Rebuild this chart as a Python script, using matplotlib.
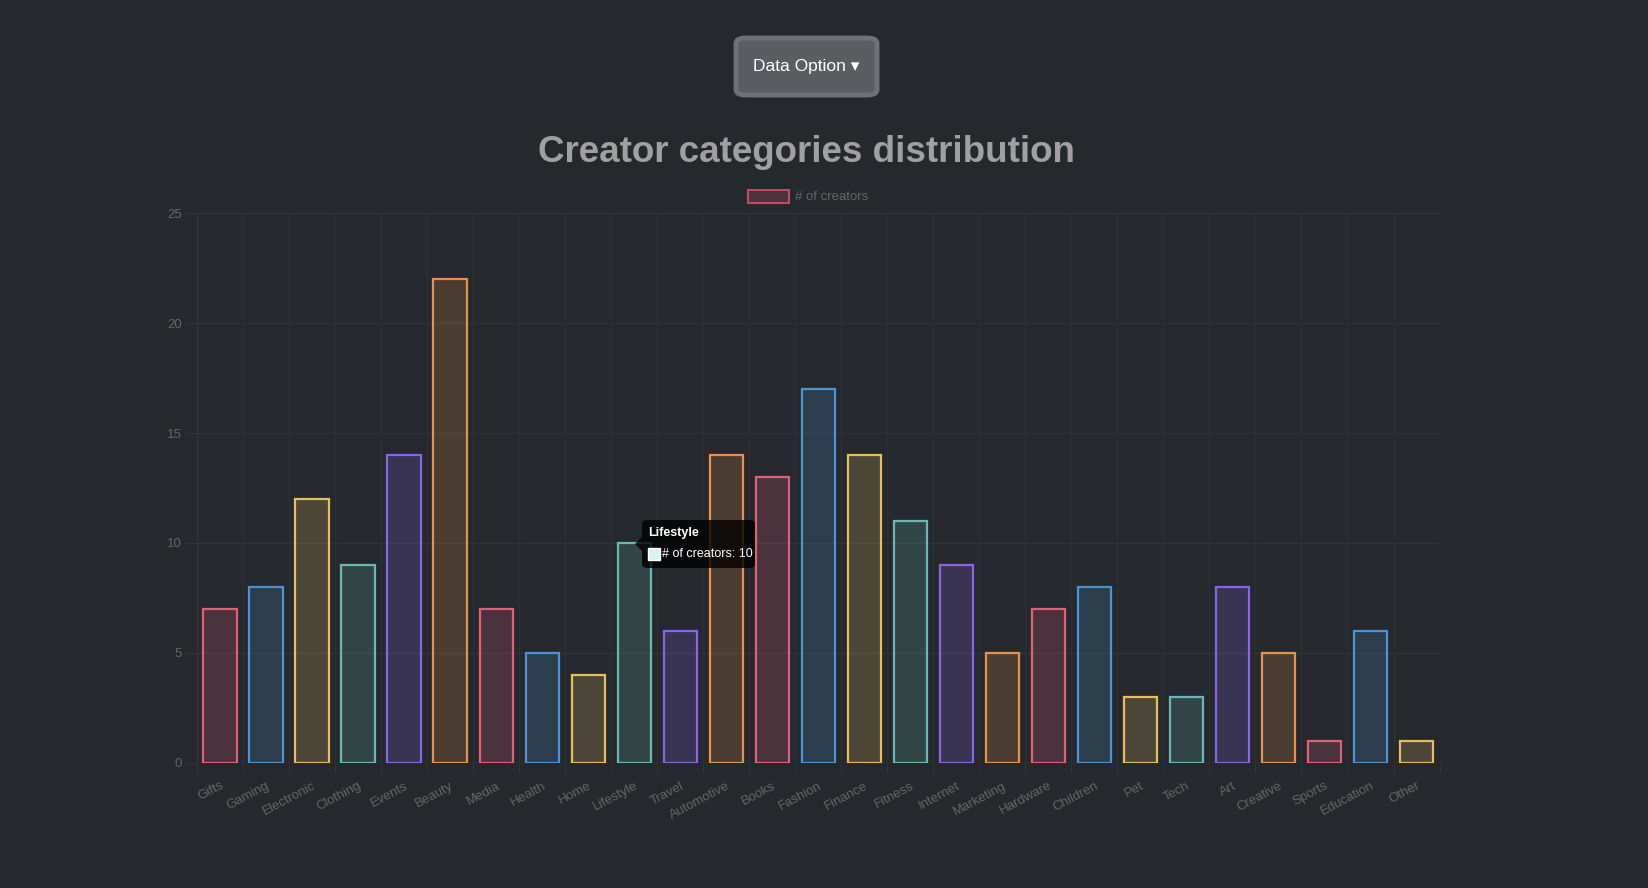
import matplotlib.pyplot as plt
from matplotlib.patches import FancyBboxPatch, Rectangle, Polygon
from matplotlib.colors import to_rgba

plt.rcParams['font.family'] = ['Liberation Sans', 'DejaVu Sans']

categories = ['Gifts', 'Gaming', 'Electronic', 'Clothing', 'Events', 'Beauty', 'Media',
              'Health', 'Home', 'Lifestyle', 'Travel', 'Automotive', 'Books', 'Fashion',
              'Finance', 'Fitness', 'Internet', 'Marketing', 'Hardware', 'Children', 'Pet',
              'Tech', 'Art', 'Creative', 'Sports', 'Education', 'Other']
creators = [7, 8, 12, 9, 14, 22, 7, 5, 4, 10, 6, 14, 13, 17, 14, 11, 9, 5, 7, 8, 3, 3, 8, 5, 1, 6, 1]
y_ticks = [0, 5, 10, 15, 20, 25]

# chart.js default palette, cycled
palette = ['#e0607a', '#4a94d6', '#e8bd5c', '#6ab7b4', '#8a63e8', '#e8914a']
bg = '#25292d'

fig = plt.figure(figsize=(16.48, 8.88), dpi=100, facecolor=bg)
ax = fig.add_axes([0.1195, 0.1408, 0.754, 0.6193], facecolor=bg)

x = list(range(len(categories)))
edges = [palette[i % len(palette)] for i in x]
fills = [to_rgba(c, 0.2) for c in edges]
ax.bar(x, creators, width=0.72, color=fills, edgecolor=edges, linewidth=1.6, zorder=3)

ax.set_xlim(-0.5, len(categories) - 0.5)
ax.set_ylim(0, 25)
ax.set_yticks(y_ticks)
ax.set_xticks(x)
ax.set_xticklabels(categories, rotation=28, ha='right', rotation_mode='anchor',
                   color='#666666', fontsize=9.5)
ax.tick_params(axis='x', length=0, pad=12)
ax.tick_params(axis='y', length=8, color='#33373b', labelcolor='#666666', labelsize=9.5, pad=3)
ax.set_xticks([i - 0.5 for i in range(len(categories) + 1)], minor=True)
ax.tick_params(axis='x', which='minor', length=8, color='#33373b')
ax.grid(axis='y', color='#303438', linewidth=1, zorder=0)
ax.grid(axis='x', which='minor', color='#2c3034', linewidth=1, zorder=0)
for s in ax.spines.values():
    s.set_visible(False)
ax.axhline(0, color='#3a3e42', linewidth=1, zorder=2)
ax.axvline(-0.5, color='#33373b', linewidth=1, zorder=2)

# title
fig.text(806 / 1648, 1 - 153 / 888, 'Creator categories distribution', ha='center', va='center',
         fontsize=26.5, fontweight='bold', color='#a0a0a0')

# legend
fig.patches.append(Rectangle((748 / 1648, 1 - 203 / 888), 41 / 1648, 13 / 888,
                             transform=fig.transFigure, facecolor=to_rgba(palette[0], 0.2),
                             edgecolor='#c04a62', linewidth=1.5))
fig.text(795 / 1648, 1 - 196.5 / 888, '# of creators', ha='left', va='center',
         fontsize=9.5, color='#666666')

# dropdown button
fig.patches.append(FancyBboxPatch((736 / 1648, 1 - 95 / 888), 141 / 1648, 57 / 888,
                                  boxstyle='round,pad=0,rounding_size=0.006',
                                  transform=fig.transFigure, facecolor='#5a5e62',
                                  edgecolor='#6e7276', linewidth=3.5))
fig.text(806 / 1648, 1 - 66 / 888, 'Data Option \u25be', ha='center', va='center',
         fontsize=12.5, color='white')

# tooltip on Lifestyle
tip_x0, tip_y0, tip_w, tip_h = 642 / 1648, 1 - 568 / 888, 113 / 1648, 48 / 888
fig.patches.append(FancyBboxPatch((tip_x0, tip_y0), tip_w, tip_h,
                                  boxstyle='round,pad=0,rounding_size=0.004',
                                  transform=fig.transFigure, facecolor=(0, 0, 0, 0.8),
                                  edgecolor='none', zorder=10))
fig.patches.append(Polygon([(tip_x0, 1 - 537 / 888), (tip_x0 - 7 / 1648, 1 - 544 / 888),
                            (tip_x0, 1 - 551 / 888)], closed=True, transform=fig.transFigure,
                           facecolor=(0, 0, 0, 0.8), edgecolor='none', zorder=10))
fig.text(648 / 1648, 1 - 533 / 888, 'Lifestyle', ha='left', va='center', fontsize=9,
         fontweight='bold', color='white', zorder=11)
fig.patches.append(Rectangle((648 / 1648, 1 - 560 / 888), 12 / 1648, 12 / 888,
                             transform=fig.transFigure, facecolor='#dbf2f2',
                             edgecolor='white', linewidth=1, zorder=11))
fig.text(662 / 1648, 1 - 554 / 888, '# of creators: 10', ha='left', va='center',
         fontsize=9, color='white', zorder=11)

fig.savefig('out.png', dpi=100, facecolor=bg)
